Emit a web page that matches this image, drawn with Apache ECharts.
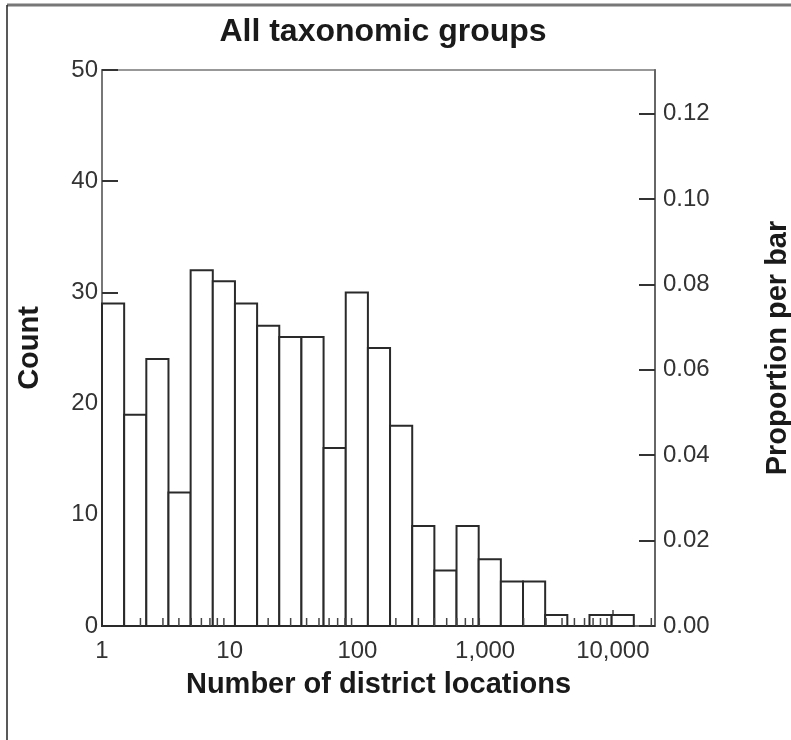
<!DOCTYPE html>
<html>
<head>
<meta charset="utf-8">
<script src="https://cdn.jsdelivr.net/npm/echarts@6/dist/echarts.min.js"></script>
<style>
  html, body { margin: 0; padding: 0; background: #fff; }
  #main { width: 791px; height: 740px; }
</style>
</head>
<body>
<div id="main"></div>
<script>
var counts = [29, 19, 24, 12, 32, 31, 29, 27, 26, 26, 16, 30, 25, 18, 9, 5, 9, 6, 4, 4, 1, 0, 1, 1];
var binWidthLog = 0.1735;   // bins are equal steps of log10(locations)
var xTickValues = [1, 10, 100, 1000, 10000];
var minorTickValues = [2, 3, 4, 5, 6, 7, 8, 9,
  20, 30, 40, 50, 60, 70, 80, 90,
  200, 300, 400, 500, 600, 700, 800, 900,
  2000, 3000, 4000, 5000, 6000, 7000, 8000, 9000, 20000];

var total = counts.reduce(function (a, b) { return a + b; }, 0);

var bins = counts.map(function (c, i) {
  return [i * binWidthLog, (i + 1) * binWidthLog, c];
});
var minorTicks = minorTickValues.map(function (v) { return [Math.log10(v)]; });

var myChart = echarts.init(document.getElementById('main'));
var font = 'Liberation Sans, Arial, sans-serif';

myChart.setOption({
  animation: false,
  textStyle: { fontFamily: font },
  grid: {
    left: 102, right: 136, top: 70, bottom: 114,
    outerBoundsMode: 'none',
    containLabel: false,
    show: true, borderColor: '#777', borderWidth: 1.5
  },
  graphic: [
    { type: 'line', shape: { x1: 7, y1: 5, x2: 791, y2: 5 }, style: { stroke: '#777', lineWidth: 3 } },
    { type: 'line', shape: { x1: 7, y1: 5, x2: 7, y2: 740 }, style: { stroke: '#222', lineWidth: 1.5 } },
    {
      type: 'text', x: 383, y: 16,
      style: { text: 'All taxonomic groups', font: 'bold 32px ' + font, fill: '#1a1a1a', textAlign: 'center' }
    }
  ],
  xAxis: {
    type: 'value',
    min: 0,
    max: 4.33,
    interval: 1,
    name: 'Number of district locations',
    nameLocation: 'middle',
    nameGap: 44,
    nameTextStyle: { fontSize: 29, fontWeight: 'bold', color: '#1a1a1a' },
    axisLine: { lineStyle: { color: '#666', width: 2 } },
    axisTick: { inside: true, length: 16, lineStyle: { color: '#444', width: 1.5 } },
    axisLabel: {
      fontSize: 24, color: '#333', margin: 13, showMaxLabel: false,
      formatter: function (v) {
        var n = Math.round(Math.pow(10, v));
        return xTickValues.indexOf(n) >= 0 ? n.toLocaleString('en-US') : '';
      }
    },
    splitLine: { show: false }
  },
  yAxis: [
    {
      type: 'value',
      min: 0, max: 50, interval: 10,
      name: 'Count',
      nameLocation: 'middle',
      nameRotate: 90,
      nameGap: 58,
      nameTextStyle: { fontSize: 29, fontWeight: 'bold', color: '#1a1a1a' },
      axisLine: { show: true, lineStyle: { color: '#777', width: 2 } },
      axisTick: { inside: true, length: 16, lineStyle: { color: '#333', width: 2 } },
      axisLabel: { fontSize: 24, color: '#333', margin: 4 },
      splitLine: { show: false }
    },
    {
      type: 'value',
      position: 'right',
      min: 0, max: 50 / total, interval: 0.02,
      name: 'Proportion per bar',
      nameLocation: 'middle',
      nameRotate: 90,
      nameGap: 108,
      nameTextStyle: { fontSize: 29, fontWeight: 'bold', color: '#1a1a1a', verticalAlign: 'top' },
      axisLine: { show: true, lineStyle: { color: '#666', width: 2 } },
      axisTick: { inside: true, length: 16, lineStyle: { color: '#333', width: 2 } },
      axisLabel: {
        fontSize: 24, color: '#333', margin: 8, showMaxLabel: false,
        formatter: function (v) { return v.toFixed(2); }
      },
      splitLine: { show: false }
    }
  ],
  series: [
    {
      type: 'custom',
      name: 'Count',
      data: bins,
      clip: false,
      renderItem: function (params, api) {
        var p0 = api.coord([api.value(0), api.value(2)]);
        var p1 = api.coord([api.value(1), 0]);
        return {
          type: 'rect',
          shape: { x: p0[0], y: p0[1], width: p1[0] - p0[0], height: p1[1] - p0[1] },
          style: { fill: '#fff', stroke: '#2a2a2a', lineWidth: 2 }
        };
      }
    },
    {
      type: 'custom',
      name: 'minor ticks',
      silent: true,
      data: minorTicks,
      z: 5,
      renderItem: function (params, api) {
        var p = api.coord([api.value(0), 0]);
        return {
          type: 'line',
          shape: { x1: p[0], y1: p[1], x2: p[0], y2: p[1] - 8 },
          style: { stroke: '#444', lineWidth: 1.5 }
        };
      }
    }
  ]
});
</script>
</body>
</html>
